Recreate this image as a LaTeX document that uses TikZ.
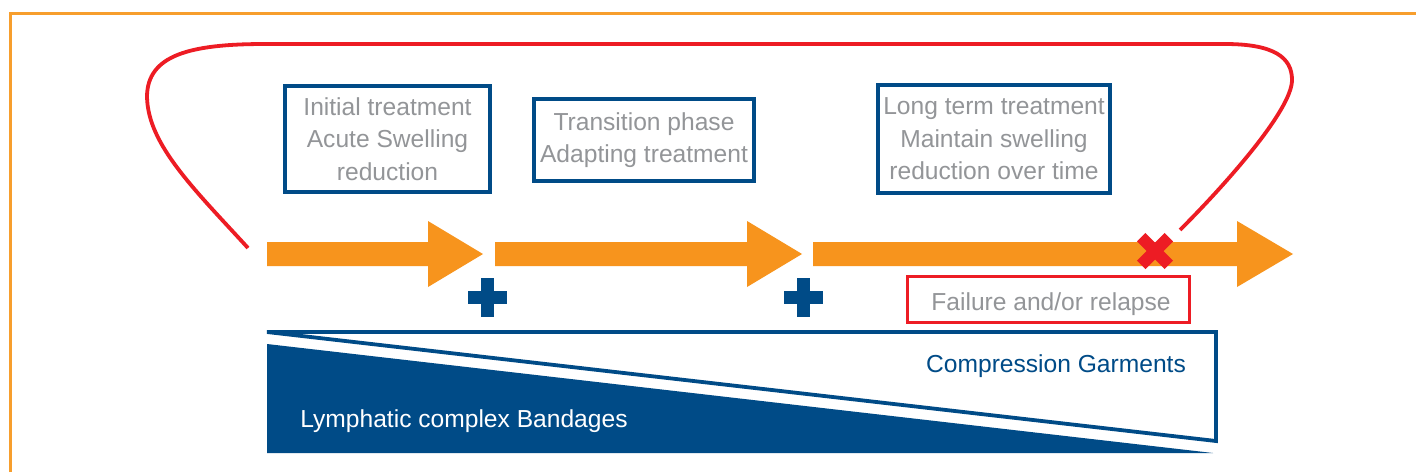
\documentclass[tikz,border=0pt]{standalone}
\usepackage{fontspec}
\setmainfont{Liberation Sans}
\definecolor{orng}{RGB}{247,148,29}
\definecolor{frameor}{RGB}{247,158,45}
\definecolor{bl}{RGB}{0,75,135}
\definecolor{rd}{RGB}{237,28,36}
\definecolor{gr}{RGB}{147,149,152}
\begin{document}
\begin{tikzpicture}[x=0.5pt,y=-0.5pt,
  txt/.style={font=\fontsize{12.3}{16.2}\selectfont},
  phasebox/.style={txt,draw=bl,line width=2pt,inner sep=0pt,text=gr,align=center},
  failbox/.style={draw=rd,line width=1.6pt,inner sep=0pt},
  bigarrow/.style={fill=orng},
  plusbar/.style={fill=bl},
  loopline/.style={draw=rd,line width=1.9pt},
  crossline/.style={draw=rd,line width=6pt}]
\useasboundingbox (0,0) rectangle (1416,472);
\fill[white] (0,0) rectangle (1416,472);
% frame
\draw[frameor,line width=1.5pt] (10,472) -- (10,13) -- (1416,13);
% arrows
\fill[bigarrow] (267,242) -- (428,242) -- (428,221) -- (483,254) -- (428,287) -- (428,266) -- (267,266) -- cycle;
\fill[bigarrow] (495,242) -- (747,242) -- (747,221) -- (802,254) -- (747,287) -- (747,266) -- (495,266) -- cycle;
\fill[bigarrow] (813,242) -- (1237,242) -- (1237,221) -- (1293,254) -- (1237,287) -- (1237,266) -- (813,266) -- cycle;
% plus signs
\fill[plusbar] (468,291) rectangle (507,304);
\fill[plusbar] (481,278) rectangle (494,317);
\fill[plusbar] (784,291) rectangle (823,304);
\fill[plusbar] (797,278) rectangle (810,317);
% phase boxes
\node[phasebox,minimum width=102.5pt,minimum height=53pt] (p1) at (387.5,139) {Initial treatment\\Acute Swelling\\reduction};
\node[phasebox,minimum width=110pt,minimum height=41pt] (p2) at (644,140) {Transition phase\\Adapting treatment};
\node[phasebox,minimum width=116pt,minimum height=54pt] (p3) at (994,139) {Long term treatment\\Maintain swelling\\reduction over time};
% failure box
\node[failbox,minimum width=141pt,minimum height=23pt] (failbox) at (1048.5,299.5) {};
\node[txt,text=gr,anchor=base] (failtext) at (1051,310) {Failure and/or relapse};
% red loop and cross
\coordinate (loopstart) at (248,248);
\coordinate (loopend) at (1180,230);
\coordinate (crossc) at (1155,251);
\draw[loopline] (loopstart) .. controls (195,190) and (148,145) .. (147,97)
  .. controls (147,55) and (190,44) .. (265,44) -- (1225,44)
  .. controls (1275,44) and (1292,58) .. (1292,80)
  .. controls (1292,110) and (1225,185) .. (loopend);
\draw[crossline] ([shift={(-13.8,-13.8)}]crossc) -- ([shift={(13.8,13.8)}]crossc);
\draw[crossline] ([shift={(-13.8,13.8)}]crossc) -- ([shift={(13.8,-13.8)}]crossc);
% bottom wedges
\draw[bl,line width=1.9pt] (267,332) -- (1216,332) -- (1216,441) -- cycle;
\fill[bl] (267,344) -- (1213,453) -- (267,453) -- cycle;
\node[txt,text=white,anchor=base] (bandages) at (464,427) {Lymphatic complex Bandages};
\node[txt,text=bl,anchor=base] (garments) at (1056,372) {Compression Garments};
\end{tikzpicture}
\end{document}
